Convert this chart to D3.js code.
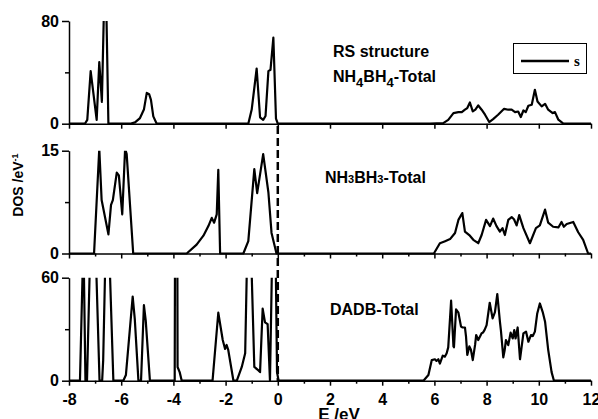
<!DOCTYPE html>
<html>
<head>
<meta charset="utf-8">
<script src="https://cdn.jsdelivr.net/npm/d3@7"></script>
<style>
body { margin: 0; background: #fff; }
text { font-family: 'Liberation Sans', Arial, sans-serif; font-weight: bold; fill: #000; }
</style>
</head>
<body>
<div class="canvas"></div>
<script>
// tick values
const xTicks = [-8, -6, -4, -2, 0, 2, 4, 6, 8, 10, 12]
const xMinor = [-7, -5, -3, -1, 1, 3, 5, 7, 9, 11]

// RS structure NH4BH4 total DOS
const rsE = [-8, -7.39, -7.30, -7.17, -6.94, -6.84, -6.74, -6.66, -6.57, -6.49,
  -5.66, -5.47, -5.28, -5.13, -5.02, -4.93, -4.86, -4.77, -4.64,
  -1.13, -1.0, -0.81, -0.68, -0.56, -0.47, -0.36, -0.28, -0.17, -0.07, 0,
  5.83, 6.34, 6.53, 6.73, 6.92, 7.05, 7.17, 7.26, 7.36, 7.47, 7.57, 7.68, 7.81, 7.94,
  8.10, 8.25, 8.44, 8.67, 8.83, 8.96, 9.09, 9.21, 9.31, 9.41, 9.50, 9.60, 9.73, 9.85,
  9.95, 10.11, 10.24, 10.36, 10.53, 10.62, 10.75, 10.94, 12]
const rsDos = [0, 0, 3, 41, 3, 48, 17, 90, 90, 0,
  0, 1, 4.4, 11, 24, 23, 18.6, 5.7, 0,
  0, 11, 43, 5, 3, 6, 41, 42, 67, 4, 0,
  0, 0.5, 3, 8.3, 9, 9, 10.9, 12.2, 16.5, 9.6, 11, 14.2, 10.9, 7,
  1.3, 3.6, 7, 11.6, 10.9, 10.9, 9, 9.5, 5.2, 10.3, 9, 14, 14.8, 26.4,
  17.3, 13.5, 15.5, 10.9, 8.3, 9, 3.1, 0, 0]

// NH3BH3 total DOS
const abE = [-8, -7.04, -6.84, -6.75, -6.49, -6.39, -6.32, -6.17, -6.09, -5.96, -5.85, -5.79, -5.54,
  -3.49, -3.11, -2.85, -2.66, -2.53, -2.44, -2.34, -2.28, -2.21,
  -1.32, -1.13, -0.90, -0.79, -0.56, -0.36, -0.24, -0.05,
  5.98, 6.21, 6.41, 6.60, 6.79, 6.92, 7.07, 7.17, 7.36, 7.49, 7.68, 7.81, 7.98, 8.13,
  8.25, 8.38, 8.51, 8.61, 8.70, 8.83, 8.96, 9.05, 9.15, 9.25, 9.41, 9.66, 9.89, 10.04,
  10.24, 10.36, 10.55, 10.75, 10.87, 10.96, 11.07, 11.32, 11.51, 11.70, 11.89, 12]
const abDos = [0, 0, 15.3, 7.8, 2.8, 7.1, 7.8, 11.8, 11.4, 5.7, 15.3, 14.5, 0,
  0, 1.3, 2.6, 4, 5.2, 4.5, 5.7, 12.2, 0,
  0, 1.8, 12.3, 8.8, 14.5, 8.9, 3, 0,
  0, 1.5, 1.8, 2.1, 3.0, 4.9, 5.9, 3.2, 2.6, 2.0, 1.5, 2.7, 4.9, 4.0,
  5.1, 4.0, 3.2, 3.7, 2.7, 4.9, 5.3, 5.0, 4.1, 5.6, 3.7, 1.5, 3.7, 4.1,
  6.4, 4.5, 3.9, 3.8, 4.6, 3.9, 4.3, 4.6, 3.1, 2.0, 0, 0]

// DADB total DOS
const dadbE = [-8, -7.58, -7.48, -7.44, -7.37, -7.31, -7.21, -7.08, -6.95, -6.83,
  -6.73, -6.69, -6.62, -6.52, -6.43, -6.30,
  -5.92, -5.82, -5.56, -5.48, -5.34, -5.24, -5.13, -5.06, -4.90,
  -3.95, -3.89, -3.84, -3.76, -3.68,
  -2.50, -2.28, -2.11, -2.02, -1.96, -1.90, -1.70, -1.57, -1.38, -1.25, -1.19, -1.10, -1.00,
  -0.90, -0.74, -0.68, -0.58, -0.49, -0.39, -0.30, -0.22, -0.15, -0.08, -0.03, 0.03,
  5.58, 5.77, 5.90, 6.02, 6.08, 6.15, 6.21, 6.32, 6.40, 6.47, 6.53, 6.64, 6.73, 6.75,
  6.83, 6.92, 7.02, 7.08, 7.17, 7.21, 7.26, 7.34, 7.40, 7.47, 7.56, 7.60, 7.68, 7.81,
  7.86, 7.92, 8.00, 8.12, 8.23, 8.32, 8.41, 8.51, 8.55, 8.64, 8.69, 8.74, 8.83, 8.92,
  9.00, 9.06, 9.11, 9.19, 9.28, 9.41, 9.51, 9.60, 9.70, 9.77, 9.85, 9.94, 10.04, 10.15,
  10.24, 10.36, 10.49, 10.58, 12]
const dadbDos = [0, 0, 62, 75, 0, 0, 62, 120, 62, 0,
  0, 12, 62, 100, 62, 0,
  0, 3.3, 49, 36, 0, 0, 44, 35, 0,
  0, 400, 8, 5, 0,
  0, 39.6, 23.7, 18.5, 20.8, 18, 0, 0, 8, 16, 62, 120, 62,
  8, 6, 5, 42, 34, 33, 0, 70, 95, 70, 5, 0,
  0, 3.3, 12, 12.5, 11.5, 12.5, 10, 14.6, 14, 16, 19.4, 46.6, 20, 19.5,
  41.6, 39.6, 31.5, 31, 31, 26, 15, 20, 18, 12, 21, 26.6, 23.7, 27.6,
  28, 29.5, 32.4, 45.4, 36.3, 40, 50.5, 34.4, 29, 13.6, 17.5, 23.7, 20.7, 28,
  24.6, 29.5, 24.6, 31, 12.5, 27.6, 28.6, 22.7, 26.6, 26, 28.6, 39.2, 45, 40,
  34.4, 18, 5, 0, 0]

const width = 598
const height = 419

const svg = d3.select('.canvas').append('svg')
  .attr('width', width)
  .attr('height', height)

const x = d3.scaleLinear()
  .domain([-8, 12])
  .range([69, 591])

const panels = [
  { id: 'rs', e: rsE, dos: rsDos, max: 80, top: 21, bottom: 123.7, minor: false, labels: false },
  { id: 'ab', e: abE, dos: abDos, max: 15, top: 150.7, bottom: 253.5, minor: true, labels: false },
  { id: 'dadb', e: dadbE, dos: dadbDos, max: 60, top: 277.7, bottom: 380.7, minor: true, labels: true }
]

const styleAxis = g => {
  g.selectAll('path').attr('stroke', '#000').attr('stroke-width', 1.5)
  g.selectAll('line').attr('stroke', '#000').attr('stroke-width', 1.5)
  g.selectAll('text').attr('font-size', 16).attr('fill', '#000')
    .attr('font-family', "'Liberation Sans', Arial, sans-serif").attr('font-weight', 'bold')
}

panels.forEach(p => {
  const y = d3.scaleLinear()
    .domain([0, p.max])
    .range([p.bottom, p.top])

  const graph = svg.append('g')

  graph.append('clipPath')
    .attr('id', `clip-${p.id}`)
    .append('rect')
    .attr('x', x(-8))
    .attr('y', y(p.max))
    .attr('width', x(12) - x(-8))
    .attr('height', y(0) - y(p.max) + 2)

  const pts = p.e.map((e, i) => [e, p.dos[i]])

  const line = d3.line()
    .x(d => x(d[0]))
    .y(d => y(d[1]))

  graph.append('path')
    .datum(pts)
    .attr('clip-path', `url(#clip-${p.id})`)
    .attr('fill', 'none')
    .attr('stroke', '#000')
    .attr('stroke-width', 2.2)
    .attr('stroke-linejoin', 'round')
    .attr('d', line)

  // bottom axis
  const xAxis = d3.axisBottom(x)
    .tickValues(xTicks)
    .tickSize(5)
    .tickSizeOuter(0)
    .tickPadding(8)
    .tickFormat(d => p.labels ? String(d) : '')

  graph.append('g')
    .attr('transform', `translate(0,${y(0)})`)
    .call(xAxis)
    .call(styleAxis)

  if (p.minor) {
    const minorAxis = d3.axisBottom(x)
      .tickValues(xMinor)
      .tickSize(3)
      .tickFormat('')
    graph.append('g')
      .attr('transform', `translate(0,${y(0)})`)
      .call(minorAxis)
      .call(g => g.select('.domain').remove())
      .call(styleAxis)
  }

  // left axis
  const yAxis = d3.axisLeft(y)
    .tickValues([0, p.max])
    .tickSize(7)
    .tickSizeOuter(0)
    .tickPadding(3)
    .tickFormat(d => String(d))

  graph.append('g')
    .attr('transform', `translate(${x(-8)},0)`)
    .call(yAxis)
    .call(styleAxis)

  const yMinor = d3.axisLeft(y)
    .tickValues([p.max / 2])
    .tickSize(4)
    .tickFormat('')

  graph.append('g')
    .attr('transform', `translate(${x(-8)},0)`)
    .call(yMinor)
    .call(g => g.select('.domain').remove())
    .call(styleAxis)
})

// Fermi level
svg.append('line')
  .attr('x1', x(0))
  .attr('x2', x(0))
  .attr('y1', 126)
  .attr('y2', 381)
  .attr('stroke', '#000')
  .attr('stroke-width', 2.5)
  .attr('stroke-dasharray', '8,4')

// panel titles
svg.append('text')
  .attr('x', 333)
  .attr('y', 57)
  .attr('font-size', 16)
  .text('RS structure')

const t1 = svg.append('text')
  .attr('x', 333)
  .attr('y', 82)
  .attr('font-size', 16)
t1.append('tspan').text('NH')
t1.append('tspan').attr('font-size', 13).attr('dy', 5).text('4')
t1.append('tspan').attr('dy', -5).text('BH')
t1.append('tspan').attr('font-size', 13).attr('dy', 5).text('4')
t1.append('tspan').attr('dy', -5).text('-Total')

const t2 = svg.append('text')
  .attr('x', 325)
  .attr('y', 183)
  .attr('font-size', 16)
t2.append('tspan').text('NH')
t2.append('tspan').attr('font-size', 11).text('3')
t2.append('tspan').text('BH')
t2.append('tspan').attr('font-size', 11).text('3')
t2.append('tspan').text('-Total')

svg.append('text')
  .attr('x', 330)
  .attr('y', 315)
  .attr('font-size', 16)
  .text('DADB-Total')

// legend
svg.append('rect')
  .attr('x', 513.5)
  .attr('y', 43.5)
  .attr('width', 73)
  .attr('height', 30)
  .attr('fill', '#fff')
  .attr('stroke', '#000')
  .attr('stroke-width', 1)

svg.append('line')
  .attr('x1', 521)
  .attr('x2', 569)
  .attr('y1', 61)
  .attr('y2', 61)
  .attr('stroke', '#000')
  .attr('stroke-width', 2.5)

svg.append('text')
  .attr('x', 574)
  .attr('y', 66)
  .attr('font-size', 15)
  .style('font-family', "'Liberation Serif', 'Times New Roman', serif")
  .text('s')

// axis titles
const yl = svg.append('text')
  .attr('transform', 'translate(23,185) rotate(-90)')
  .attr('text-anchor', 'middle')
  .attr('font-size', 14)
yl.append('tspan').text('DOS /eV')
yl.append('tspan').attr('font-size', 9).attr('dy', -5).text('-1')

svg.append('text')
  .attr('x', 339)
  .attr('y', 420)
  .attr('text-anchor', 'middle')
  .attr('font-size', 17)
  .text('E /eV')
</script>
</body>
</html>
